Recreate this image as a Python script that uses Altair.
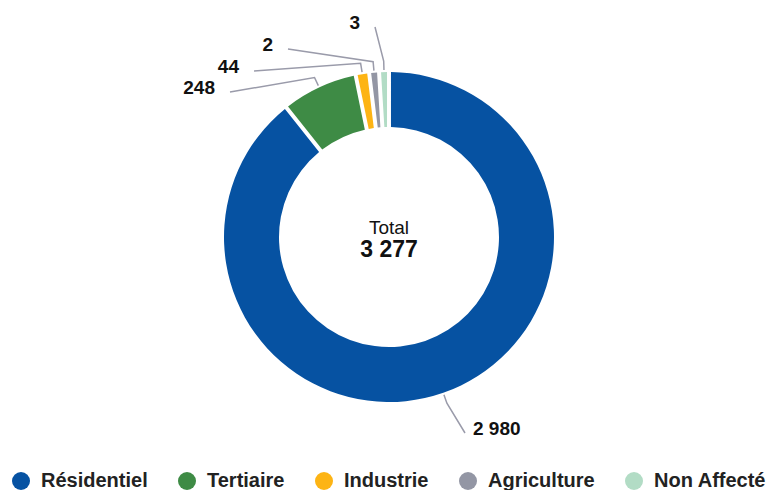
import math
import altair as alt
import pandas as pd

# ---- data ----
categories = ["Résidentiel", "Tertiaire", "Industrie", "Agriculture", "Non Affecté"]
values = [2980, 248, 44, 2, 3]
colors = ["#0652A2", "#3E8B45", "#FDB414", "#9396A4", "#B2DCC5"]
center_title = "Total"

# ---- layout (annotation placement, not data) ----
W, H = 758, 482
CX, CY = 381, 229
R_IN, R_OUT = 110, 165
MIN_SLICE = 32  # minimum drawn size so that tiny slices stay visible
label_offsets = [(76, 196), (-159, -145), (-135, -166), (-101, -188), (-14, -210)]
label_align = ["left", "right", "right", "right", "right"]


def fmt(v):
    return f"{v:,}".replace(",", " ")


display = [max(v, MIN_SLICE) for v in values]
tot_disp = sum(display)

pie = pd.DataFrame({
    "cat": categories,
    "value": values,
    "display": display,
    "idx": list(range(len(categories))),
})

# leader lines + labels derived from slice angles
line_rows, lab_rows = [], []
cum = 0
for i, (c, v, d) in enumerate(zip(categories, values, display)):
    th = (cum + d / 2) / tot_disp * 2 * math.pi
    cum += d
    p_edge = (CX + 167 * math.sin(th), CY - 167 * math.cos(th))
    p_elb = (CX + 176 * math.sin(th), CY - 176 * math.cos(th))
    p_end = (CX + label_offsets[i][0], CY + label_offsets[i][1])
    for k, p in enumerate([p_edge, p_elb, p_end]):
        line_rows.append({"cat": c, "k": k, "px": p[0], "py": p[1]})
    dx = 8 if label_align[i] == "left" else -15
    lab_rows.append({"cat": c, "txt": fmt(v), "px": p_end[0] + dx,
                     "py": p_end[1] + 2, "al": label_align[i]})

lines = pd.DataFrame(line_rows)
labs = pd.DataFrame(lab_rows)
center = pd.DataFrame({"t1": [center_title], "t2": [fmt(sum(values))]})

arc = alt.Chart(pie).mark_arc(innerRadius=R_IN, outerRadius=R_OUT, padAngle=0.02).encode(
    x=alt.value(CX),
    y=alt.value(CY),
    theta=alt.Theta("display:Q", stack=True),
    order=alt.Order("idx:Q"),
    color=alt.Color(
        "cat:N",
        scale=alt.Scale(domain=categories, range=colors),
        sort=categories,
        legend=alt.Legend(
            title=None, orient="none", legendX=3, legendY=463, direction="horizontal",
            symbolType="circle", symbolSize=324, symbolStrokeWidth=0,
            labelFont="Liberation Sans", labelFontSize=20, labelFontWeight="bold",
            labelColor="#222222", labelOffset=10, columnPadding=29,
            labelLimit=300,
        ),
    ),
)

xs = alt.X("px:Q", scale=None, axis=None)
ys = alt.Y("py:Q", scale=None, axis=None)

leader = alt.Chart(lines).mark_line(color="#9A9BAA", strokeWidth=1.5).encode(
    x=xs, y=ys, detail="cat:N", order="k:Q"
)

lab_left = alt.Chart(labs).transform_filter("datum.al == 'left'").mark_text(
    align="left", baseline="alphabetic", font="Liberation Sans", fontSize=19,
    fontWeight="bold", color="#111111"
).encode(x=xs, y=ys, text="txt:N")

lab_right = alt.Chart(labs).transform_filter("datum.al == 'right'").mark_text(
    align="right", baseline="alphabetic", font="Liberation Sans", fontSize=19,
    fontWeight="bold", color="#111111"
).encode(x=xs, y=ys, text="txt:N")

c1 = alt.Chart(center).mark_text(
    align="center", baseline="alphabetic", font="Liberation Sans", fontSize=19,
    color="#111111"
).encode(x=alt.value(CX), y=alt.value(CY - 3), text="t1:N")

c2 = alt.Chart(center).mark_text(
    align="center", baseline="alphabetic", font="Liberation Sans", fontSize=23,
    fontWeight="bold", color="#111111"
).encode(x=alt.value(CX), y=alt.value(CY + 20), text="t2:N")

chart = alt.layer(arc, leader, lab_left, lab_right, c1, c2).properties(
    width=W, height=H, padding=0, background="white",
    autosize=alt.AutoSizeParams(type="none"),
).configure_view(strokeWidth=0)

chart.save("out.html", embed_options={"renderer": "svg", "actions": False})
